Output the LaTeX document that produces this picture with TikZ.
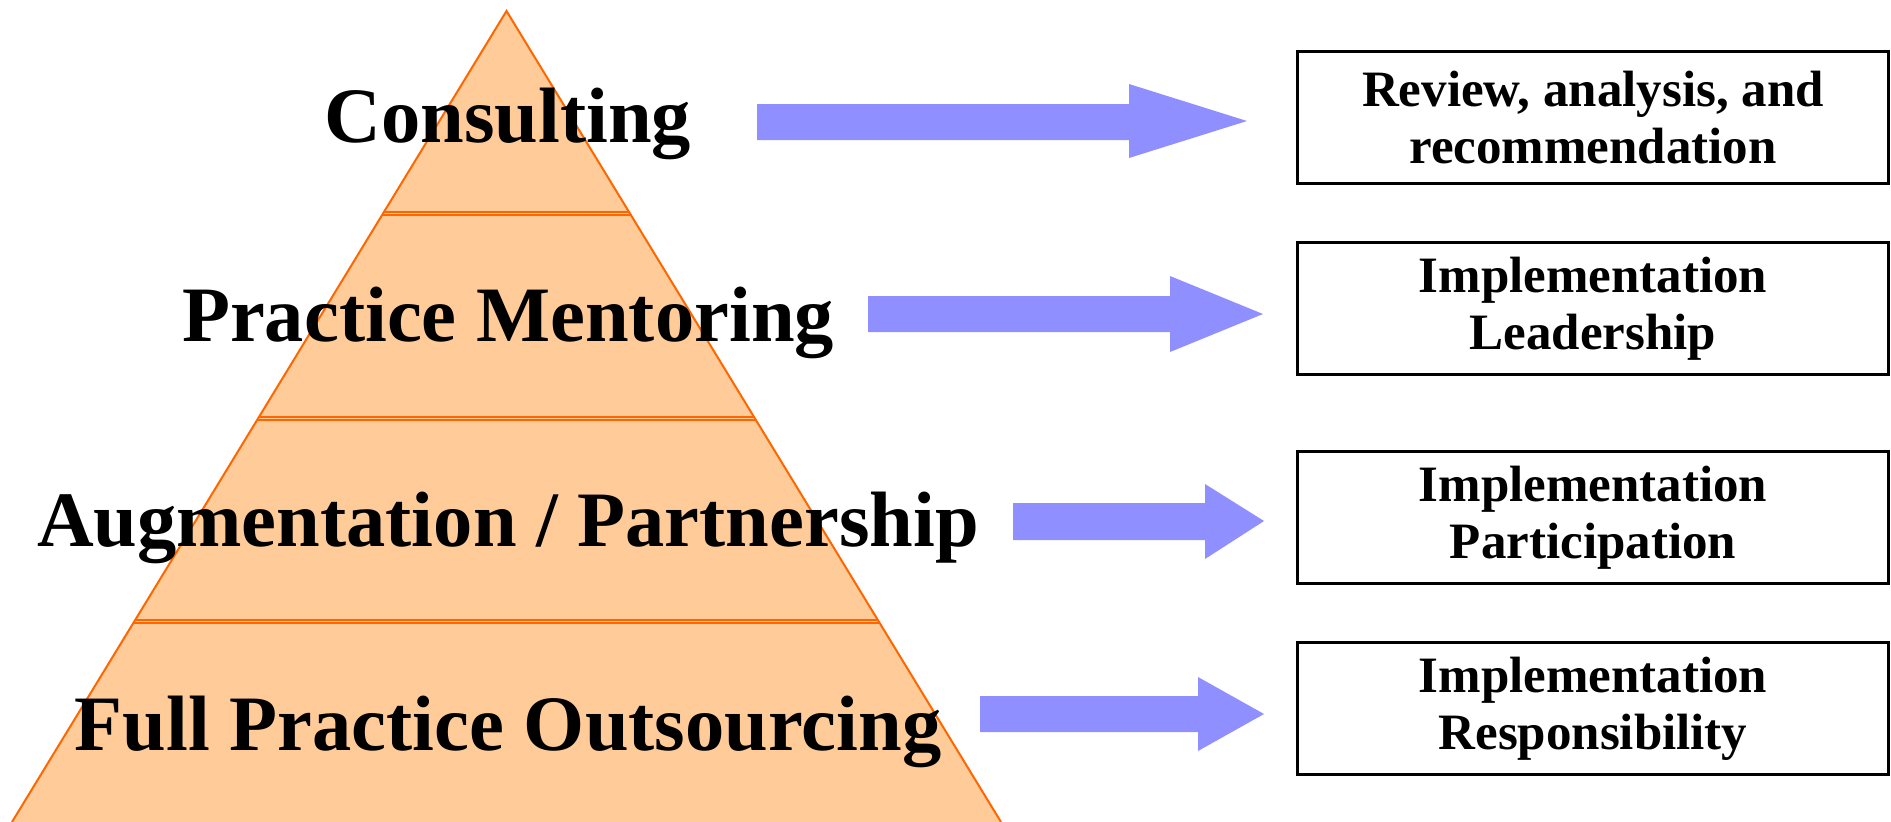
\documentclass[tikz,border=0pt]{standalone}
\usepackage{fontspec}
\setmainfont{Liberation Serif}
\usetikzlibrary{calc}
\definecolor{peach}{HTML}{FFCC99}
\definecolor{edgeorange}{HTML}{FF6600}
\definecolor{arrowblue}{HTML}{8F8FFF}
\begin{document}
\begin{tikzpicture}[x=1pt,y=-1pt,
  level/.style={font=\fontsize{78.5}{90}\selectfont\bfseries, anchor=base, inner sep=0pt},
  outcome/.style={draw=black, line width=3pt, minimum width=591pt, minimum height=132pt,
    align=center, font=\fontsize{51}{57}\selectfont\bfseries, inner sep=0pt},
  divider/.style={draw=edgeorange, line width=2pt},
  bigarrow/.style={fill=arrowblue}]
\useasboundingbox (0,0) rectangle (1891,822);
\coordinate (A) at (506.5,11);
\coordinate (BL) at (12,822);
\coordinate (BR) at (1001,822);
\fill[peach] (A) -- (BL) -- (BR) -- cycle;
\foreach \t in {0.2478,0.2515,0.5006,0.5043,0.7509,0.7546}
  \draw[divider] ($(A)!\t!(BL)$) -- ($(A)!\t!(BR)$);
\draw[edgeorange, line width=2pt, line join=miter] (BL) -- (A) -- (BR);
% level labels
\node[level] (consulting) at (508,142) {Consulting};
\node[level] (mentoring) at (508,341) {Practice Mentoring};
\node[level] (augment) at (508,546) {Augmentation / Partnership};
\node[level] (full) at (508,750) {Full Practice Outsourcing};
% outcome boxes
\node[outcome] (review) at (1593,117.5) {Review, analysis, and\\recommendation};
\node[outcome] (leader) at (1593,308.5) {Implementation\\Leadership};
\node[outcome] (partic) at (1593,517.5) {Implementation\\Participation};
\node[outcome] (respon) at (1593,708.5) {Implementation\\Responsibility};
% block arrows
\fill[bigarrow] (757,104) -- (1129,104) -- (1129,84) -- (1247,121) -- (1129,158) -- (1129,140) -- (757,140) -- cycle;
\fill[bigarrow] (868,296) -- (1170,296) -- (1170,276) -- (1263,314) -- (1170,352) -- (1170,332) -- (868,332) -- cycle;
\fill[bigarrow] (1013,503) -- (1205,503) -- (1205,484) -- (1264,521) -- (1205,559) -- (1205,540) -- (1013,540) -- cycle;
\fill[bigarrow] (980,696) -- (1198,696) -- (1198,677) -- (1264,714) -- (1198,751) -- (1198,732) -- (980,732) -- cycle;
\end{tikzpicture}
\end{document}
